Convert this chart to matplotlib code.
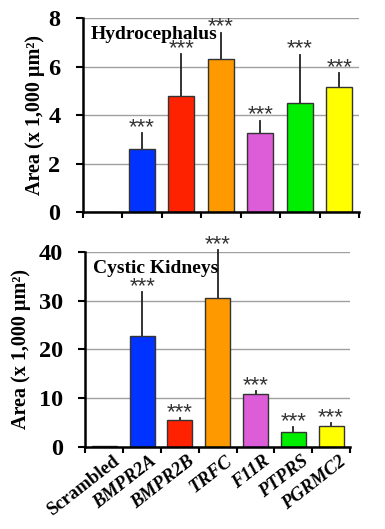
import matplotlib
matplotlib.use("Agg")
import matplotlib.pyplot as plt
import numpy as np

categories = ["Scrambled", "BMPR2A", "BMPR2B", "TRFC", "F11R", "PTPRS", "PGRMC2"]
colors = ["#FFFFFF", "#0033FF", "#FF2200", "#FF9900", "#DD5CD8", "#00EE00", "#FFFF00"]

hydro_vals = [0.0, 2.62, 4.78, 6.33, 3.28, 4.50, 5.17]
hydro_err = [0.0, 0.65, 1.75, 1.08, 0.50, 2.00, 0.58]
hydro_sig = ["", "***", "***", "***", "***", "***", "***"]

kidney_vals = [0.1, 22.8, 5.5, 30.6, 10.9, 3.0, 4.35]
kidney_err = [0.0, 9.0, 0.35, 9.8, 0.6, 1.0, 0.45]
kidney_sig = ["", "***", "***", "***", "***", "***", "***"]

hydro_ticks = [0, 2, 4, 6, 8]
kidney_ticks = [0, 10, 20, 30, 40]

serif = ["Liberation Serif", "DejaVu Serif"]
sans = ["Liberation Sans", "DejaVu Sans"]

fig = plt.figure(figsize=(3.85, 5.29), dpi=100)
ax1 = fig.add_axes([0.2148, 0.5987, 0.7177, 0.3667])
ax2 = fig.add_axes([0.222, 0.1556, 0.687, 0.368])

def draw(ax, vals, errs, sigs, ticks, title, ylim, show_xlabels, label_x):
    x = np.arange(len(categories))
    ax.set_axisbelow(True)
    ax.yaxis.grid(True, color="#A0A0A0", linewidth=1.0)
    ax.bar(x, vals, width=0.66, color=colors, edgecolor="#333333", linewidth=1.0, zorder=2)
    for xi, v, e in zip(x, vals, errs):
        if e > 0:
            ax.plot([xi, xi], [v, v + e], color="#222222", linewidth=1.3, zorder=1.5,
                    clip_on=False)
    for xi, v, e, s in zip(x, vals, errs, sigs):
        if s:
            ax.annotate(s, (xi, v + e), xytext=(0, 0), textcoords="offset points",
                        ha="center", va="baseline", fontsize=16, color="#333333",
                        family=sans, zorder=4, annotation_clip=False)
    ax.set_xlim(-0.5, len(categories) - 0.5)
    ax.set_ylim(*ylim)
    ax.set_yticks(ticks)
    ax.set_yticklabels([str(t) for t in ticks], family=serif, fontweight="bold", fontsize=17.5)
    ax.set_xticks(np.arange(len(categories) + 1) - 0.5)
    ax.tick_params(axis="x", direction="out", length=4, width=1.5, labelbottom=False)
    ax.tick_params(axis="y", direction="out", length=5, width=1.5, pad=11)
    for sp in ["top", "right"]:
        ax.spines[sp].set_visible(False)
    ax.spines["left"].set_linewidth(1.8)
    ax.spines["bottom"].set_linewidth(1.8)
    ax.set_ylabel("Area (x 1,000 µm²)", family=serif, fontweight="bold", fontsize=14.5)
    ax.yaxis.set_label_coords(label_x, 0.5)
    ax.text(0.03, 0.96, title, transform=ax.transAxes, ha="left", va="top",
            family=serif, fontweight="bold", fontsize=14, zorder=5)
    if show_xlabels:
        for i, c in enumerate(categories):
            style = "normal" if c == "Scrambled" else "italic"
            ax.text(i + 0.2, -0.03 * (ylim[1] - ylim[0]), c, rotation=38, ha="right", va="top",
                    rotation_mode="anchor", family=serif, fontweight="bold", style=style,
                    fontsize=13.5, transform=ax.transData, clip_on=False)

draw(ax1, hydro_vals, hydro_err, hydro_sig, hydro_ticks, "Hydrocephalus", (0, 8), False, -0.136)
draw(ax2, kidney_vals, kidney_err, kidney_sig, kidney_ticks, "Cystic Kidneys", (0, 40), True, -0.206)

fig.savefig("out.png", dpi=100)
